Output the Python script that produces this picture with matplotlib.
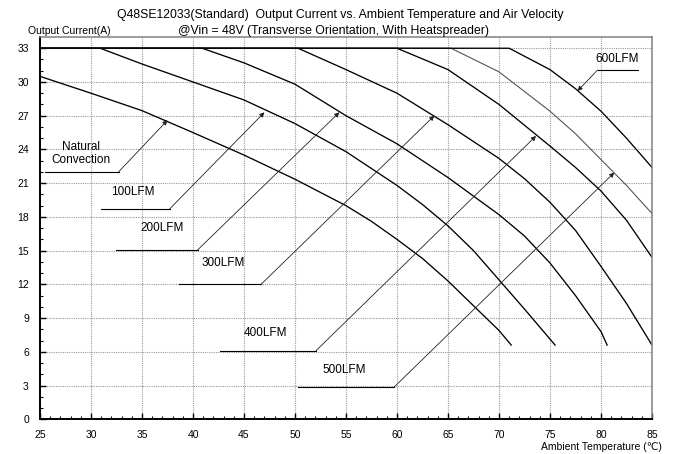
import matplotlib
matplotlib.use('Agg')
import matplotlib.pyplot as plt
import numpy as np

# Derating curves: ambient temperature (C) -> output current (A).
nat_T = [25, 30, 35, 40, 45, 50, 55, 57.5, 60, 62.5, 65, 67.5, 70, 71.2]
nat_A = [30.5, 29.0, 27.45, 25.5, 23.5, 21.35, 19.0, 17.6, 16.0, 14.3, 12.3, 10.1, 7.9, 6.6]

lfm100_T = [25, 30.9, 35, 40, 45, 50, 55, 60, 62.5, 65, 67.5, 70, 72.5, 75.5]
lfm100_A = [33, 33, 31.6, 30.0, 28.4, 26.3, 23.8, 20.8, 19.1, 17.2, 15.0, 12.4, 9.8, 6.6]

lfm200_T = [25, 40.9, 45, 50, 55, 60, 65, 70, 72.5, 75, 77.5, 80, 80.6]
lfm200_A = [33, 33, 31.7, 29.8, 27.0, 24.5, 21.5, 18.2, 16.3, 13.9, 11.0, 7.8, 6.6]

lfm300_T = [25, 50.3, 55, 60, 65, 70, 72.5, 75, 77.5, 80, 82.5, 85]
lfm300_A = [33, 33, 31.1, 29.0, 26.2, 23.2, 21.4, 19.3, 16.8, 13.6, 10.3, 6.6]

lfm400_T = [25, 60, 65, 70, 75, 77.5, 80, 82.5, 85]
lfm400_A = [33, 33, 31.1, 28.0, 24.3, 22.4, 20.3, 17.7, 14.4]

lfm500_T = [25, 65.3, 70, 75, 77.5, 80, 82.5, 85]
lfm500_A = [33, 33, 30.9, 27.4, 25.4, 23.1, 20.8, 18.3]

lfm600_T = [25, 71, 75, 77.5, 80, 82.5, 85]
lfm600_A = [33, 33, 31.1, 29.4, 27.4, 25.0, 22.4]

labels = ['Natural\nConvection', '100LFM', '200LFM', '300LFM',
          '400LFM', '500LFM', '600LFM']

x_ticks = list(range(25, 86, 5))
y_ticks = list(range(0, 34, 3))

FONT = ['Liberation Sans', 'DejaVu Sans']

# Callouts: text centre, leader line (x0, x1, y), arrow tip, side the arrow leaves from.
callouts = [
    ((29.05, 23.65), (25.5, 32.7, 22.0), (37.5, 26.6), 'right'),
    ((34.1, 20.2), (31.0, 37.7, 18.7), (47.0, 27.3), 'right'),
    ((37.0, 17.0), (32.45, 40.45, 15.06), (54.35, 27.3), 'right'),
    ((43.0, 13.9), (38.65, 46.67, 12.0), (63.66, 27.0), 'right'),
    ((47.15, 7.65), (42.65, 52.06, 6.1), (73.63, 25.2), 'right'),
    ((54.8, 4.4), (50.3, 59.7, 2.85), (81.3, 21.94), 'right'),
    ((81.6, 32.0), (79.67, 83.66, 31.07), (77.7, 29.2), 'left'),
]


def main():
    plt.rcParams['font.family'] = FONT
    fig = plt.figure(figsize=(6.74, 4.54), dpi=100)
    ax = fig.add_axes([40/674, 1 - 419.3/454, 612/674, (419.3 - 37)/454])

    curves = [(nat_T, nat_A), (lfm100_T, lfm100_A), (lfm200_T, lfm200_A),
              (lfm300_T, lfm300_A), (lfm400_T, lfm400_A),
              (lfm500_T, lfm500_A), (lfm600_T, lfm600_A)]
    for i, (t, a) in enumerate(curves):
        if i == 5:  # 500LFM is drawn lighter in the original.
            ax.plot(t, a, color='#555555', lw=0.8)
        else:
            ax.plot(t, a, color='black', lw=0.95)

    for lab, (txt, (x0, x1, yl), tip, side) in zip(labels, callouts):
        ax.plot([x0, x1], [yl, yl], color='black', lw=0.8)
        start = (x1, yl) if side == 'right' else (x0, yl)
        ax.annotate('', xy=tip, xytext=start,
                    arrowprops=dict(arrowstyle='-|>', lw=0.6, color='#222222',
                                    mutation_scale=7, shrinkA=0, shrinkB=0))
        ax.text(txt[0], txt[1], lab, ha='center', va='center',
                fontsize=8.5, linespacing=1.1)

    ax.set_xlim(25, 85)
    ax.set_ylim(0, 34)
    ax.set_xticks(x_ticks)
    ax.set_yticks(y_ticks)
    ax.set_xticks(np.arange(25, 86, 1), minor=True)
    ax.set_yticks(np.arange(0, 34, 1), minor=True)
    ax.tick_params(which='both', direction='in', labelsize=7.5, pad=8)
    ax.tick_params(which='major', length=4, width=1)
    ax.tick_params(which='minor', length=2.5, width=0.8)
    ax.grid(True, which='major', color='#9a9a9a', linestyle=(0, (1, 1)), lw=0.8)

    for s in ['left', 'bottom']:
        ax.spines[s].set_linewidth(1.4)
        ax.spines[s].set_color('black')
    for s in ['top', 'right']:
        ax.spines[s].set_linewidth(1.1)
        ax.spines[s].set_color('#808080')

    fig.text(340/674, 1 - 15/454,
             'Q48SE12033(Standard)  Output Current vs. Ambient Temperature and Air Velocity',
             ha='center', va='center', fontsize=8.8)
    fig.text(333/674, 1 - 31/454,
             '@Vin = 48V (Transverse Orientation, With Heatspreader)',
             ha='center', va='center', fontsize=8.8)
    fig.text(28/674, 1 - 31/454, 'Output Current(A)',
             ha='left', va='center', fontsize=7.5)
    fig.text(662/674, 1 - 447/454, 'Ambient Temperature (\u2103)',
             ha='right', va='center', fontsize=7.5)

    fig.savefig('out.png', dpi=100)


if __name__ == '__main__':
    main()
